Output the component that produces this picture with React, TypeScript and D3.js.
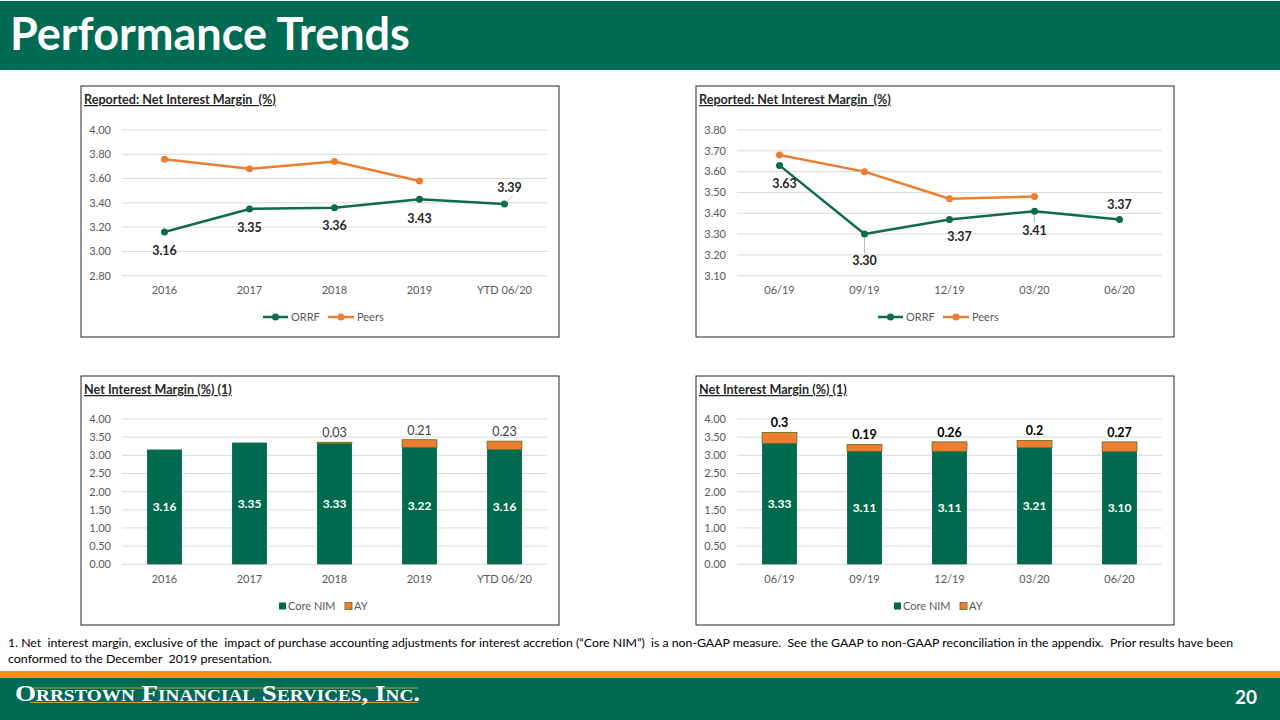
import React from "react";
import * as d3 from "d3";

const annualCats = ["2016", "2017", "2018", "2019", "YTD 06/20"];
const quarterCats = ["06/19", "09/19", "12/19", "03/20", "06/20"];

const annualOrrf = [3.16, 3.35, 3.36, 3.43, 3.39];
const annualPeers: (number | null)[] = [3.76, 3.68, 3.74, 3.58, null];
const quarterOrrf = [3.63, 3.3, 3.37, 3.41, 3.37];
const quarterPeers: (number | null)[] = [3.68, 3.6, 3.47, 3.48, null];

const annualCore = [3.16, 3.35, 3.33, 3.22, 3.16];
const annualAY: (number | null)[] = [null, null, 0.03, 0.21, 0.23];
const quarterCore = [3.33, 3.11, 3.11, 3.21, 3.1];
const quarterAY: (number | null)[] = [0.3, 0.19, 0.26, 0.2, 0.27];

const annualLineTicks = [2.8, 3.0, 3.2, 3.4, 3.6, 3.8, 4.0];
const quarterLineTicks = [3.1, 3.2, 3.3, 3.4, 3.5, 3.6, 3.7, 3.8];
const barTicks = [0, 0.5, 1, 1.5, 2, 2.5, 3, 3.5, 4];

// label placement offsets (layout only)
const annualLabelOffsets = [
  { dx: 0, dy: 19, lead: false },
  { dx: 0, dy: 19, lead: false },
  { dx: 0, dy: 18, lead: false },
  { dx: 0, dy: 19, lead: false },
  { dx: 5, dy: -16, lead: true },
];
const quarterLabelOffsets = [
  { dx: 5, dy: 18, lead: false },
  { dx: 0, dy: 27, lead: true },
  { dx: 10, dy: 17, lead: false },
  { dx: 0, dy: 19.5, lead: true },
  { dx: 0, dy: -15, lead: false },
];

const GREEN = "#006A4E";
const LINE_GREEN = "#0E6B50";
const ORANGE = "#ED7D31";
const HEADER_GREEN = "#006A52";
const FONT = "Lato, 'Open Sans', sans-serif";
const AX = 11;

type LineProps = {
  x0: number;
  y0: number;
  cats: string[];
  orrf: number[];
  peers: (number | null)[];
  ticks: number[];
  offsets: { dx: number; dy: number; lead: boolean }[];
};

function Box({ x0, y0, h, title }: { x0: number; y0: number; h: number; title: string }) {
  return (
    <g>
      <rect x={x0} y={y0} width={478} height={h} fill="#fff" stroke="#262626" strokeWidth={1} />
      <text
        x={x0 + 3}
        y={y0 + 18}
        fontFamily={FONT}
        fontWeight={700}
        fontSize={12.6}
        fill="#262626"
        style={{ textDecoration: "underline", whiteSpace: "pre" }}
      >
        {title}
      </text>
    </g>
  );
}

function LineChart({ x0, y0, cats, orrf, peers, ticks, offsets }: LineProps) {
  const x = d3.scaleBand<string>().domain(cats).range([x0 + 41, x0 + 466]);
  const y = d3.scaleLinear().domain([ticks[0], ticks[ticks.length - 1]]).range([y0 + 189.7, y0 + 44]);
  const cx = (c: string) => (x(c) as number) + x.bandwidth() / 2;
  const line = d3
    .line<number | null>()
    .defined((d) => d !== null)
    .x((_, i) => cx(cats[i]))
    .y((d) => y(d as number));
  const fmt = d3.format(".2f");
  const legY = y0 + 231;
  return (
    <g>
      <Box x0={x0} y0={y0} h={251} title="Reported: Net Interest Margin  (%)" />
      {ticks.map((t) => (
        <g key={t}>
          <line x1={x0 + 41} x2={x0 + 466} y1={y(t)} y2={y(t)} stroke="#D9D9D9" strokeWidth={1} />
          <text x={x0 + 30} y={y(t)} dy="0.35em" textAnchor="end" fontFamily={FONT} fontSize={AX} fill="#595959">
            {fmt(t)}
          </text>
        </g>
      ))}
      {cats.map((c) => (
        <text key={c} x={cx(c)} y={y0 + 208} textAnchor="middle" fontFamily={FONT} fontSize={AX} fill="#595959">
          {c}
        </text>
      ))}
      <path d={line(peers) || ""} fill="none" stroke={ORANGE} strokeWidth={2.5} strokeLinejoin="round" />
      {peers.map((v, i) =>
        v === null ? null : <circle key={"p" + i} cx={cx(cats[i])} cy={y(v)} r={3.5} fill={ORANGE} />
      )}
      <path d={line(orrf) || ""} fill="none" stroke={LINE_GREEN} strokeWidth={2.5} strokeLinejoin="round" />
      {orrf.map((v, i) => (
        <circle key={"o" + i} cx={cx(cats[i])} cy={y(v)} r={3.5} fill={LINE_GREEN} />
      ))}
      {orrf.map((v, i) => {
        const o = offsets[i];
        const px = cx(cats[i]);
        const py = y(v);
        const lx = px + o.dx;
        const ly = py + o.dy;
        return (
          <g key={"l" + i}>
            {o.lead ? (
              <line
                x1={px + (o.dy < 0 ? 2 : 0)}
                y1={py + (o.dy < 0 ? -2 : 4)}
                x2={px + (o.dy < 0 ? 8 : 0)}
                y2={o.dy < 0 ? py - 8 : ly - 8}
                stroke="#A6A6A6"
                strokeWidth={0.8}
              />
            ) : null}
            <text x={lx} y={ly} dy="0.35em" textAnchor="middle" fontFamily={FONT} fontWeight={700} fontSize={12.5} fill="#262626">
              {fmt(v)}
            </text>
          </g>
        );
      })}
      <g fontFamily={FONT} fontSize={AX} fill="#595959">
        <line x1={x0 + 182} x2={x0 + 207} y1={legY} y2={legY} stroke={LINE_GREEN} strokeWidth={2.5} />
        <circle cx={x0 + 194.5} cy={legY} r={3.5} fill={LINE_GREEN} />
        <text x={x0 + 210} y={legY} dy="0.35em">ORRF</text>
        <line x1={x0 + 247} x2={x0 + 273} y1={legY} y2={legY} stroke={ORANGE} strokeWidth={2.5} />
        <circle cx={x0 + 260} cy={legY} r={3.5} fill={ORANGE} />
        <text x={x0 + 276} y={legY} dy="0.35em">Peers</text>
      </g>
    </g>
  );
}

type BarProps = {
  x0: number;
  y0: number;
  cats: string[];
  core: number[];
  ay: (number | null)[];
  boldAY: boolean;
};

function BarChart({ x0, y0, cats, core, ay, boldAY }: BarProps) {
  const x = d3.scaleBand<string>().domain(cats).range([x0 + 41, x0 + 466]).paddingInner(0.59).paddingOuter(0.295);
  const y = d3.scaleLinear().domain([0, 4]).range([y0 + 188.3, y0 + 43]);
  const fmt = d3.format(".2f");
  const legY = y0 + 230;
  return (
    <g>
      <Box x0={x0} y0={y0} h={249} title="Net Interest Margin (%) (1)" />
      {barTicks.map((t) => (
        <g key={t}>
          <line x1={x0 + 41} x2={x0 + 466} y1={y(t)} y2={y(t)} stroke="#D9D9D9" strokeWidth={1} />
          <text x={x0 + 30} y={y(t)} dy="0.35em" textAnchor="end" fontFamily={FONT} fontSize={AX} fill="#595959">
            {fmt(t)}
          </text>
        </g>
      ))}
      {cats.map((c, i) => {
        const bx = x(c) as number;
        const bw = x.bandwidth();
        const a = ay[i];
        const top = core[i] + (a ?? 0);
        return (
          <g key={c}>
            <rect x={bx} y={y(core[i])} width={bw} height={y(0) - y(core[i])} fill={GREEN} />
            {a !== null ? (
              <rect x={bx} y={y(top)} width={bw} height={y(core[i]) - y(top)} fill={ORANGE} stroke="#5B6B1C" strokeWidth={0.8} />
            ) : null}
            <text
              x={bx + bw / 2}
              y={y(core[i] / 2)}
              dy="0.35em"
              textAnchor="middle"
              fontFamily={FONT}
              fontWeight={700}
              fontSize={12}
              fill="#fff"
            >
              {fmt(core[i])}
            </text>
            {a !== null ? (
              <text
                x={bx + bw / 2}
                y={y(top) - 5}
                textAnchor="middle"
                fontFamily={FONT}
                fontWeight={boldAY ? 700 : 400}
                fontSize={12.5}
                fill={boldAY ? "#000" : "#404040"}
              >
                {String(a)}
              </text>
            ) : null}
            <text x={bx + bw / 2} y={y0 + 207} textAnchor="middle" fontFamily={FONT} fontSize={AX} fill="#595959">
              {c}
            </text>
          </g>
        );
      })}
      <g fontFamily={FONT} fontSize={AX} fill="#595959">
        <rect x={x0 + 198} y={legY - 3.5} width={7} height={7} fill={GREEN} />
        <text x={x0 + 207} y={legY} dy="0.35em">Core NIM</text>
        <rect x={x0 + 264} y={legY - 3.5} width={7} height={7} fill={ORANGE} stroke="#5B6B1C" strokeWidth={0.8} />
        <text x={x0 + 273} y={legY} dy="0.35em">AY</text>
      </g>
    </g>
  );
}

export default function App() {
  return (
    <svg width={1280} height={720} style={{ position: "absolute", left: 0, top: 0, background: "#fff" }}>
      <rect x={0} y={0} width={1280} height={720} fill="#fff" />
      <rect x={0} y={1} width={1280} height={69} fill={HEADER_GREEN} />
      <text x={10} y={50} fontFamily={FONT} fontWeight={700} fontSize={45} fill="#fff">
        Performance Trends
      </text>

      <LineChart x0={81} y0={86} cats={annualCats} orrf={annualOrrf} peers={annualPeers} ticks={annualLineTicks} offsets={annualLabelOffsets} />
      <LineChart x0={696} y0={86} cats={quarterCats} orrf={quarterOrrf} peers={quarterPeers} ticks={quarterLineTicks} offsets={quarterLabelOffsets} />
      <BarChart x0={81} y0={376} cats={annualCats} core={annualCore} ay={annualAY} boldAY={false} />
      <BarChart x0={696} y0={376} cats={quarterCats} core={quarterCore} ay={quarterAY} boldAY={true} />

      <text x={8} y={647} fontFamily={FONT} fontSize={10.5} fill="#000" textLength={1225} lengthAdjust="spacingAndGlyphs" style={{ whiteSpace: "pre" }}>
        1. Net  interest margin, exclusive of the  impact of purchase accounting adjustments for interest accretion (“Core NIM”)  is a non-GAAP measure.  See the GAAP to non-GAAP reconciliation in the appendix.  Prior results have been
      </text>
      <text x={8} y={663} fontFamily={FONT} fontSize={10.5} fill="#000" textLength={264} lengthAdjust="spacingAndGlyphs" style={{ whiteSpace: "pre" }}>
        conformed to the December  2019 presentation.
      </text>

      <rect x={0} y={671} width={1280} height={7} fill="#F0901E" />
      <rect x={0} y={678} width={1280} height={42} fill={HEADER_GREEN} />
      <line x1={30} x2={418} y1={688} y2={688} stroke="#B8A53A" strokeWidth={1} />
      <line x1={30} x2={418} y1={702.5} y2={702.5} stroke="#B8A53A" strokeWidth={1.2} />
      <text
        x={15}
        y={701}
        fontFamily="'Liberation Serif', 'DejaVu Serif', serif"
        fontWeight={700}
        fontSize={24}
        fill="#fff"
        style={{ fontVariant: "small-caps" }}
        textLength={405}
        lengthAdjust="spacingAndGlyphs"
      >
        Orrstown Financial Services, Inc.
      </text>
      <text x={1257} y={704} textAnchor="end" fontFamily={FONT} fontWeight={700} fontSize={19} fill="#fff">
        20
      </text>
    </svg>
  );
}
